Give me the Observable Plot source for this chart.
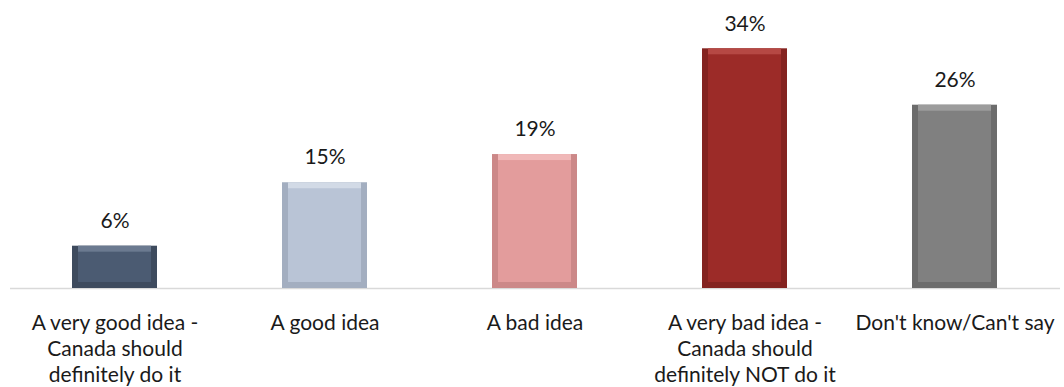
<!DOCTYPE html>
<html>
<head>
<meta charset="utf-8">
<script src="https://cdn.jsdelivr.net/npm/d3@7"></script>
<script src="https://cdn.jsdelivr.net/npm/@observablehq/plot@0.6"></script>
<style>
  html, body { margin: 0; padding: 0; background: #ffffff; }
  #chart { width: 1064px; height: 387px; overflow: hidden; }
</style>
</head>
<body>
<div id="chart"></div>
<script>
const categories = [
  "A very good idea - Canada should definitely do it",
  "A good idea",
  "A bad idea",
  "A very bad idea - Canada should definitely NOT do it",
  "Don't know/Can't say"
];
const tickLabels = [
  "A very good idea -\nCanada should\ndefinitely do it",
  "A good idea",
  "A bad idea",
  "A very bad idea -\nCanada should\ndefinitely NOT do it",
  "Don't know/Can't say"
];
const values = [6, 15, 19, 34, 26];
const barColors = ["#4b5b72", "#b9c4d6", "#e39c9c", "#9c2b28", "#808080"];
const sideColors = ["#3e4b5e", "#a3aec0", "#cc8888", "#842320", "#6c6c6c"];
const topColors = ["#6b7a90", "#d2dae6", "#f0b8b8", "#b64844", "#9c9c9c"];

const data = categories.map((c, i) => ({
  cat: c, label: tickLabels[i], value: values[i],
  color: barColors[i], side: sideColors[i], top: topColors[i]
}));

const font = "Lato, 'Noto Sans', sans-serif";

const chart = Plot.plot({
  width: 1064,
  height: 387,
  marginLeft: 10,
  marginRight: 4,
  marginTop: 6,
  marginBottom: 99,
  style: { fontFamily: font, background: "#ffffff" },
  x: { domain: categories, paddingInner: 0.595, paddingOuter: 0.2975, axis: null },
  y: { domain: [0, 40], axis: null },
  marks: [
    Plot.ruleY([0], { stroke: "#d9d9d9", strokeWidth: 1.5 }),
    Plot.barY(data, { x: "cat", y: "value", fill: "side" }),
    Plot.barY(data, { x: "cat", y: "value", fill: "top", insetLeft: 6, insetRight: 6, insetBottom: 6 }),
    Plot.barY(data, { x: "cat", y: "value", fill: "color", insetLeft: 6, insetRight: 6, insetTop: 6, insetBottom: 6 }),
    Plot.text(data, {
      x: "cat", y: "value", text: d => d.value + "%",
      dy: -25, fontSize: 21, fill: "#1a1a1a"
    }),
    Plot.text(data, {
      x: "cat", y: 0, text: "label",
      lineAnchor: "top", dy: 23, lineHeight: 1.24,
      fontSize: 21, fill: "#1a1a1a"
    })
  ]
});
document.getElementById("chart").appendChild(chart);
</script>
</body>
</html>
